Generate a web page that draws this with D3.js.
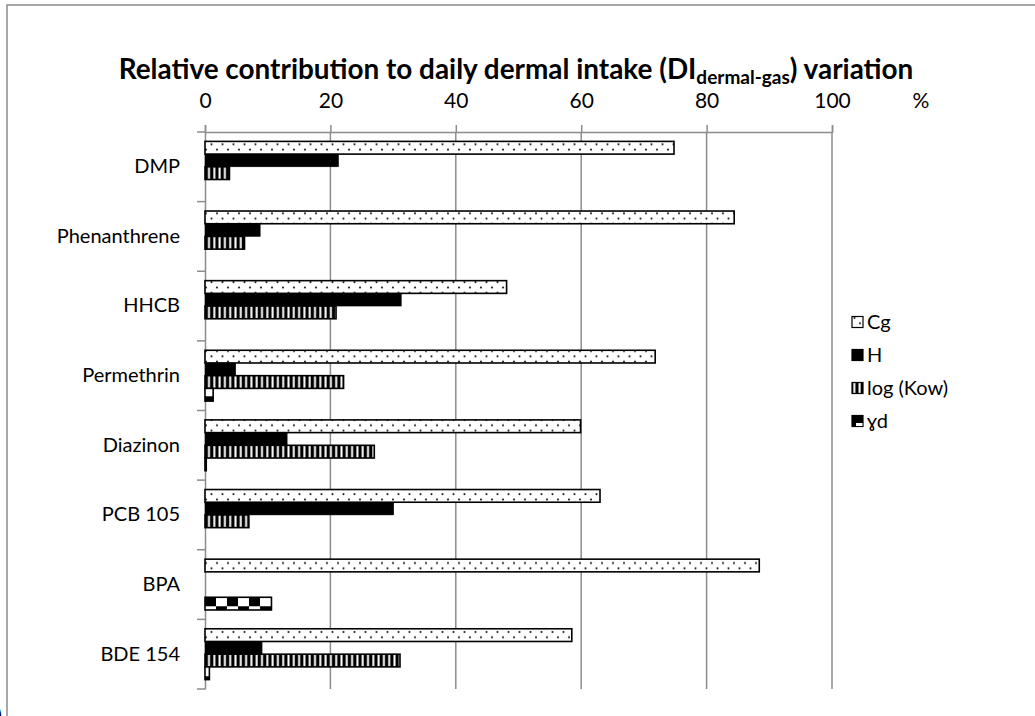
<html>
<head>
<script src="https://d3js.org/d3.v7.min.js"></script>
<style>
  body { margin: 0; background: #fff; }
  text { font-family: Lato, "Open Sans", sans-serif; fill: #000; }
</style>
</head>
<body>
<div id="chart"></div>
<script>
// data (% of variation)
var categories = ["DMP", "Phenanthrene", "HHCB", "Permethrin", "Diazinon", "PCB 105", "BPA", "BDE 154"];
var seriesNames = ["Cg", "H", "log (Kow)", "\u0263d"];
var cgValues     = [74.8, 84.4, 48.1, 71.8, 59.9, 63.0, 88.4, 58.5];
var hValues      = [21.3, 8.8, 31.3, 4.9, 13.1, 30.1, 0, 9.1];
var logKowValues = [3.9, 6.3, 20.9, 22.1, 27.0, 7.0, 0, 31.1];
var ydValues     = [0, 0, 0, 1.3, 0.2, 0, 10.6, 0.7];
var xTicks = [0, 20, 40, 60, 80, 100];

var seriesValues = [cgValues, hValues, logKowValues, ydValues];
var fills = ["url(#dots)", "#000", "url(#stripes)", "url(#checker)"];

var W = 1035, H = 716;
var margin = { top: 132, left: 205, right: 203, bottom: 27 };
var fontSize = "20px";

var svg = d3.select("#chart").append("svg")
  .attr("width", W).attr("height", H);

svg.append("rect").attr("width", W).attr("height", H).attr("fill", "#fff");

// outer frame (only top and left show)
svg.append("path")
  .attr("d", "M7," + H + "V5H" + W)
  .attr("fill", "none").attr("stroke", "#8c8c8c").attr("stroke-width", 1.5);

var x = d3.scaleLinear().domain([0, 100]).range([margin.left, W - margin.right]);
var y0 = d3.scaleBand().domain(categories).range([margin.top, H - margin.bottom]);
var y1 = d3.scaleBand().domain(d3.range(seriesNames.length))
  .range([0, y0.bandwidth()]).paddingOuter(0.74);

// patterns
var defs = svg.append("defs");
var dots = defs.append("pattern").attr("id", "dots")
  .attr("patternUnits", "userSpaceOnUse").attr("width", 11).attr("height", 10.6)
  .attr("y", y0(categories[0]) + y1(0));
dots.append("rect").attr("width", 11).attr("height", 10.6).attr("fill", "#fff");
dots.append("circle").attr("cx", 2.5).attr("cy", 3).attr("r", 1.1).attr("fill", "#222");
dots.append("circle").attr("cx", 8).attr("cy", 8.3).attr("r", 1.1).attr("fill", "#222");

var stripes = defs.append("pattern").attr("id", "stripes")
  .attr("patternUnits", "userSpaceOnUse").attr("width", 5.3).attr("height", 10)
  .attr("x", margin.left);
stripes.append("rect").attr("width", 5.3).attr("height", 10).attr("fill", "#000");
stripes.append("rect").attr("x", 3).attr("width", 2).attr("height", 10).attr("fill", "#fff");

var checker = defs.append("pattern").attr("id", "checker")
  .attr("patternUnits", "userSpaceOnUse").attr("width", 22).attr("height", 20)
  .attr("x", margin.left).attr("y", y0("BPA") + y1(3) - 1);
checker.append("rect").attr("width", 22).attr("height", 20).attr("fill", "#fff");
checker.append("rect").attr("width", 11).attr("height", 10).attr("fill", "#000");
checker.append("rect").attr("x", 11).attr("y", 10).attr("width", 11).attr("height", 10).attr("fill", "#000");

// gridlines
svg.append("g").selectAll("line")
  .data(xTicks.slice(1))
  .join("line")
  .attr("x1", d => x(d)).attr("x2", d => x(d))
  .attr("y1", margin.top).attr("y2", H - margin.bottom)
  .attr("stroke", "#8c8c8c").attr("stroke-width", 1.5);

// top axis
var xAxis = svg.append("g")
  .attr("transform", "translate(0," + margin.top + ")")
  .call(d3.axisTop(x).tickValues(xTicks).tickSize(7).tickPadding(17));
xAxis.selectAll("path, line").attr("stroke", "#8c8c8c").attr("stroke-width", 1.5);
xAxis.selectAll("text").style("font-size", "21px").style("font-family", "Lato, sans-serif");

svg.append("text")
  .attr("x", 921).attr("y", 108)
  .attr("text-anchor", "middle")
  .style("font-size", "21px")
  .text("%");

// left axis: labels centred in band, ticks at band boundaries
var yAxis = svg.append("g")
  .attr("transform", "translate(" + margin.left + ",0)")
  .call(d3.axisLeft(y0).tickSize(0).tickPadding(25));
yAxis.select("path").attr("stroke", "#8c8c8c").attr("stroke-width", 1.5);
yAxis.selectAll("text").style("font-size", fontSize).style("font-family", "Lato, sans-serif");

svg.append("g").selectAll("line")
  .data(d3.range(categories.length + 1))
  .join("line")
  .attr("x1", margin.left - 8).attr("x2", margin.left)
  .attr("y1", i => margin.top + i * y0.step())
  .attr("y2", i => margin.top + i * y0.step())
  .attr("stroke", "#8c8c8c").attr("stroke-width", 1.5);

// bars
var bars = svg.append("g");
categories.forEach(function (c, ci) {
  seriesValues.forEach(function (vals, si) {
    var v = vals[ci];
    if (!v) return;
    bars.append("rect")
      .attr("x", x(0))
      .attr("y", y0(c) + y1(si))
      .attr("width", x(v) - x(0))
      .attr("height", y1.bandwidth())
      .attr("fill", fills[si])
      .attr("stroke", "#000")
      .attr("stroke-width", si == 1 ? 0.5 : 1.6);
  });
});

// legend
var legendY = [322, 355, 388, 421];
var legend = svg.append("g");
seriesNames.forEach(function (name, i) {
  var g = legend.append("g").attr("transform", "translate(852," + legendY[i] + ")");
  g.append("rect")
    .attr("x", 0).attr("y", -5.5).attr("width", 11).attr("height", 11)
    .attr("fill", i == 3 ? "#000" : fills[i])
    .attr("stroke", "#000").attr("stroke-width", 1.2);
  if (i == 3) {
    g.append("rect").attr("x", 4).attr("y", 2).attr("width", 6.5).attr("height", 3).attr("fill", "#fff");
  }
  g.append("text")
    .attr("x", 15).attr("y", 7)
    .style("font-size", fontSize)
    .text(name);
});

// title
var title = svg.append("text")
  .attr("x", 516).attr("y", 79)
  .attr("text-anchor", "middle")
  .style("font-weight", "bold")
  .style("font-size", "22px");
title.append("tspan").text("Relative contribution to daily dermal intake (DI");
title.append("tspan").attr("dy", 5).style("font-size", "15px").text("dermal-gas");
title.append("tspan").attr("dy", -5).text(") variation");
var tw = title.node().getBBox().width;
title.style("font-size", (22 * 795 / tw) + "px");
title.select("tspan:nth-child(2)").style("font-size", (15 * 795 / tw) + "px");

// clipped panel label in the bottom-left corner
svg.append("text")
  .attr("x", -5).attr("y", 726)
  .style("font-weight", "bold")
  .style("font-size", "26px")
  .text(")");
</script>
</body>
</html>
